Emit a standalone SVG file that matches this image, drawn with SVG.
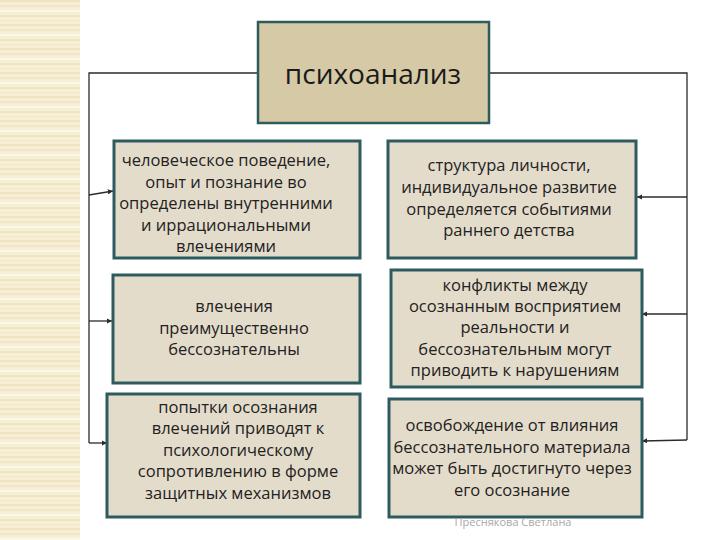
<svg xmlns="http://www.w3.org/2000/svg" width="720" height="540" viewBox="0 0 720 540">
  <style>
    .box { fill: #e4dccb; stroke: #2e5b5e; stroke-width: 3; }
    .top { fill: #d6c9a5; stroke: #2e5b5e; stroke-width: 2.5; }
    .t { font-family: "Open Sans", "Liberation Sans", sans-serif; font-size: 16.5px; fill: #222; text-anchor: middle; }
    .title { font-family: "Open Sans", "Liberation Sans", sans-serif; font-size: 28px; fill: #1a1a1a; text-anchor: middle; }
    .conn { fill: none; stroke: #2b2b2b; stroke-width: 1.3; }
    .sig { font-family: "Open Sans", "Liberation Sans", sans-serif; font-size: 11px; fill: #a8a8a8; text-anchor: middle; }
  </style>
  <defs>
    <pattern id="strip" width="12" height="24" patternUnits="userSpaceOnUse">
      <rect width="12" height="24" fill="#f6eed5"/>
      <rect y="0" width="12" height="2" fill="#f0e3bf"/>
      <rect y="5" width="12" height="2" fill="#f1e6c6"/>
      <rect y="10" width="12" height="2" fill="#fcf8e6"/>
      <rect y="15" width="12" height="2" fill="#f0e3bf"/>
      <rect y="20" width="12" height="1" fill="#f2e7c8"/>
    </pattern>
    <marker id="arr" viewBox="0 0 6 6" refX="6" refY="3" markerWidth="4" markerHeight="4" orient="auto">
      <path d="M0,0 L6,3 L0,6 z" fill="#2b2b2b"/>
    </marker>
  </defs>
  <rect x="0" y="0" width="80" height="540" fill="url(#strip)"/>

  <g id="connectors">
    <path class="conn" d="M258,73 H89 V443"/>
    <path class="conn" d="M490,73 H687 V440"/>
    <line class="conn" x1="89" y1="195" x2="113" y2="191" marker-end="url(#arr)"/>
    <line class="conn" x1="89" y1="321" x2="112" y2="321" marker-end="url(#arr)"/>
    <line class="conn" x1="89" y1="443" x2="107" y2="443" marker-end="url(#arr)"/>
    <line class="conn" x1="687" y1="197" x2="637" y2="197" marker-end="url(#arr)"/>
    <line class="conn" x1="687" y1="314" x2="642" y2="314" marker-end="url(#arr)"/>
    <line class="conn" x1="687" y1="440" x2="642" y2="441" marker-end="url(#arr)"/>
  </g>

  <g id="n-top">
    <rect class="top" x="258" y="22" width="231" height="101"/>
    <text class="title" x="373" y="84">психоанализ</text>
  </g>

  <g id="n-l1">
    <rect class="box" x="114" y="141" width="246" height="117"/>
    <text class="t" x="226" y="166">человеческое поведение,</text>
    <text class="t" x="226" y="188">опыт и познание во</text>
    <text class="t" x="226" y="209">определены внутренними</text>
    <text class="t" x="226" y="231">и иррациональными</text>
    <text class="t" x="226" y="252">влечениями</text>
  </g>

  <g id="n-r1">
    <rect class="box" x="388" y="141" width="248" height="117"/>
    <text class="t" x="509" y="171">структура личности,</text>
    <text class="t" x="509" y="193">индивидуальное развитие</text>
    <text class="t" x="509" y="215">определяется событиями</text>
    <text class="t" x="509" y="236">раннего детства</text>
  </g>

  <g id="n-l2">
    <rect class="box" x="113" y="275" width="247" height="108"/>
    <text class="t" x="234" y="312">влечения</text>
    <text class="t" x="234" y="334">преимущественно</text>
    <text class="t" x="234" y="355">бессознательны</text>
  </g>

  <g id="n-r2">
    <rect class="box" x="391" y="270" width="251" height="117"/>
    <text class="t" x="515" y="291">конфликты между</text>
    <text class="t" x="515" y="312">осознанным восприятием</text>
    <text class="t" x="515" y="333">реальности и</text>
    <text class="t" x="515" y="355">бессознательным могут</text>
    <text class="t" x="515" y="376">приводить к нарушениям</text>
  </g>

  <g id="n-l3">
    <rect class="box" x="107" y="394" width="253" height="123"/>
    <text class="t" x="238" y="413">попытки осознания</text>
    <text class="t" x="238" y="434">влечений приводят к</text>
    <text class="t" x="238" y="456">психологическому</text>
    <text class="t" x="238" y="477">сопротивлению в форме</text>
    <text class="t" x="238" y="499">защитных механизмов</text>
  </g>

  <g id="n-r3">
    <rect class="box" x="389" y="399" width="253" height="118"/>
    <text class="t" x="512" y="431">освобождение от влияния</text>
    <text class="t" x="512" y="453">бессознательного материала</text>
    <text class="t" x="512" y="474">может быть достигнуто через</text>
    <text class="t" x="512" y="496">его осознание</text>
  </g>

  <text class="sig" x="513" y="526">Преснякова Светлана</text>
</svg>
